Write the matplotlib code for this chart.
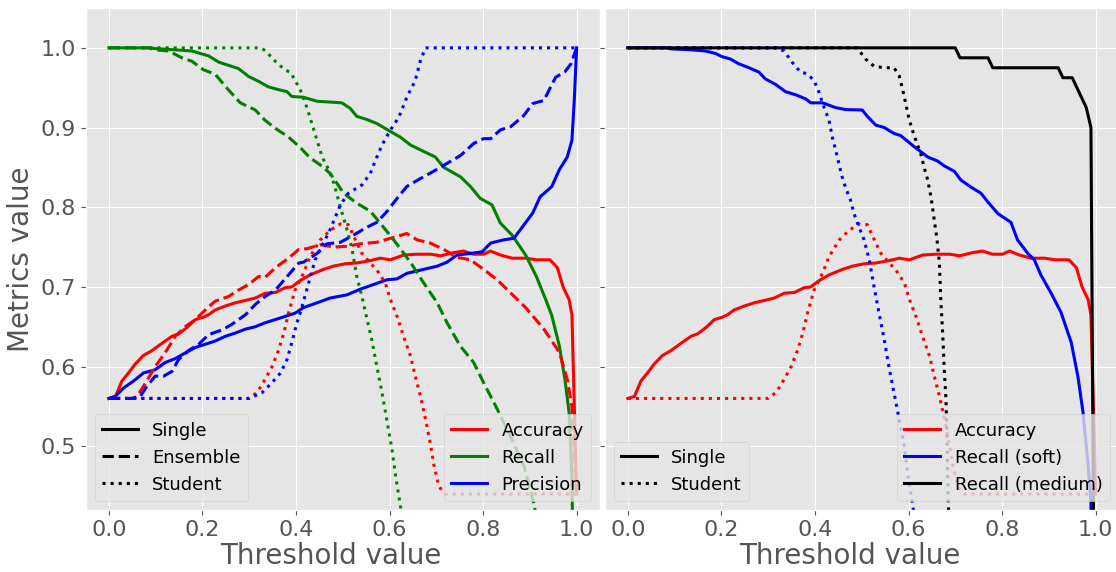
import numpy as np
import matplotlib
matplotlib.use("Agg")
import matplotlib.pyplot as plt
from matplotlib.lines import Line2D

# ---- metric curves: (threshold, value) ----
acc_single = [(0.000, 0.560), (0.014, 0.5625), (0.028, 0.582), (0.042, 0.592), (0.056, 0.603),
              (0.074, 0.614), (0.092, 0.620), (0.113, 0.629), (0.135, 0.638), (0.149, 0.641),
              (0.167, 0.649), (0.185, 0.659), (0.202, 0.662), (0.213, 0.665), (0.227, 0.671),
              (0.249, 0.676), (0.270, 0.680), (0.292, 0.683), (0.313, 0.686), (0.334, 0.692),
              (0.356, 0.693), (0.377, 0.699), (0.391, 0.700), (0.409, 0.708), (0.430, 0.715),
              (0.459, 0.722), (0.480, 0.726), (0.505, 0.729), (0.530, 0.730), (0.559, 0.733),
              (0.580, 0.736), (0.602, 0.734), (0.630, 0.740), (0.659, 0.741), (0.688, 0.741),
              (0.709, 0.739), (0.737, 0.743), (0.758, 0.745), (0.780, 0.741), (0.801, 0.741),
              (0.816, 0.745), (0.837, 0.740), (0.862, 0.736), (0.891, 0.736), (0.914, 0.734),
              (0.943, 0.734), (0.959, 0.724), (0.971, 0.700), (0.984, 0.684), (0.990, 0.665),
              (1.000, 0.440)]

acc_ensemble = [(0.000, 0.560), (0.050, 0.560), (0.060, 0.5625), (0.078, 0.579), (0.099, 0.600),
                (0.120, 0.617), (0.142, 0.638), (0.163, 0.650), (0.185, 0.659), (0.206, 0.671),
                (0.227, 0.682), (0.256, 0.688), (0.277, 0.696), (0.299, 0.703), (0.320, 0.713),
                (0.334, 0.712), (0.356, 0.724), (0.384, 0.736), (0.406, 0.747), (0.424, 0.748),
                (0.452, 0.753), (0.480, 0.750), (0.509, 0.751), (0.537, 0.754), (0.573, 0.756),
                (0.602, 0.761), (0.637, 0.767), (0.659, 0.759), (0.687, 0.755), (0.716, 0.747),
                (0.745, 0.737), (0.773, 0.734), (0.801, 0.722), (0.830, 0.709), (0.858, 0.693),
                (0.891, 0.674), (0.930, 0.647), (0.963, 0.618), (0.980, 0.584), (0.990, 0.550),
                (1.000, 0.440)]

acc_student = [(0.000, 0.560), (0.299, 0.560), (0.317, 0.5675), (0.334, 0.584), (0.349, 0.600),
               (0.363, 0.621), (0.374, 0.642), (0.384, 0.667), (0.398, 0.696), (0.416, 0.717),
               (0.430, 0.738), (0.452, 0.759), (0.473, 0.771), (0.495, 0.779), (0.512, 0.778),
               (0.527, 0.759), (0.541, 0.742), (0.559, 0.730), (0.573, 0.721), (0.591, 0.705),
               (0.602, 0.684), (0.616, 0.663), (0.630, 0.638), (0.645, 0.613), (0.655, 0.588),
               (0.666, 0.563), (0.677, 0.534), (0.688, 0.501), (0.695, 0.476), (0.705, 0.451),
               (0.712, 0.444), (0.720, 0.440), (1.000, 0.440)]

rec_single = [(0.000, 1.000), (0.085, 1.000), (0.100, 0.999), (0.142, 0.9975), (0.178, 0.996),
              (0.195, 0.993), (0.213, 0.990), (0.235, 0.982), (0.256, 0.978), (0.277, 0.974),
              (0.299, 0.964), (0.320, 0.958), (0.341, 0.951), (0.363, 0.9475), (0.381, 0.945),
              (0.391, 0.939), (0.416, 0.938), (0.445, 0.933), (0.498, 0.931), (0.516, 0.924),
              (0.530, 0.914), (0.552, 0.910), (0.573, 0.905), (0.602, 0.895), (0.623, 0.888),
              (0.645, 0.878), (0.673, 0.870), (0.698, 0.863), (0.716, 0.850), (0.752, 0.838),
              (0.773, 0.826), (0.794, 0.811), (0.819, 0.803), (0.837, 0.780), (0.862, 0.765),
              (0.891, 0.740), (0.914, 0.713), (0.934, 0.684), (0.947, 0.664), (0.963, 0.626),
              (0.975, 0.584), (0.984, 0.542), (0.990, 0.460), (1.000, 0.000)]

rec_ensemble = [(0.000, 1.000), (0.085, 1.000), (0.099, 0.9975), (0.128, 0.996), (0.156, 0.9875),
                (0.178, 0.983), (0.202, 0.9725), (0.227, 0.967), (0.256, 0.947), (0.281, 0.931),
                (0.313, 0.922), (0.334, 0.909), (0.356, 0.899), (0.384, 0.888), (0.409, 0.875),
                (0.430, 0.862), (0.452, 0.853), (0.473, 0.8425), (0.502, 0.8175), (0.530, 0.805),
                (0.559, 0.795), (0.580, 0.780), (0.609, 0.759), (0.630, 0.7425), (0.648, 0.728),
                (0.673, 0.705), (0.702, 0.680), (0.723, 0.655), (0.751, 0.626), (0.780, 0.605),
                (0.801, 0.580), (0.830, 0.547), (0.858, 0.513), (0.887, 0.476), (0.910, 0.425),
                (1.000, 0.000)]

rec_student = [(0.000, 1.000), (0.324, 1.000), (0.334, 0.9967), (0.356, 0.983), (0.377, 0.972),
               (0.388, 0.9696), (0.402, 0.955), (0.413, 0.9425), (0.424, 0.924), (0.434, 0.905),
               (0.445, 0.884), (0.456, 0.863), (0.470, 0.847), (0.481, 0.830), (0.495, 0.800),
               (0.509, 0.772), (0.520, 0.747), (0.530, 0.713), (0.541, 0.688), (0.552, 0.659),
               (0.562, 0.634), (0.573, 0.600), (0.584, 0.567), (0.594, 0.534), (0.605, 0.497),
               (0.614, 0.459), (0.623, 0.426), (0.640, 0.360)]

prec_single = [(0.000, 0.560), (0.0135, 0.5625), (0.031, 0.573), (0.053, 0.582), (0.074, 0.592),
               (0.099, 0.596), (0.120, 0.605), (0.142, 0.610), (0.163, 0.617), (0.185, 0.624),
               (0.206, 0.628), (0.227, 0.632), (0.249, 0.638), (0.270, 0.642), (0.292, 0.647),
               (0.313, 0.650), (0.334, 0.655), (0.356, 0.659), (0.377, 0.663), (0.398, 0.667),
               (0.416, 0.674), (0.445, 0.680), (0.473, 0.686), (0.509, 0.690), (0.537, 0.697),
               (0.566, 0.703), (0.595, 0.709), (0.616, 0.710), (0.637, 0.717), (0.673, 0.722),
               (0.702, 0.726), (0.723, 0.731), (0.744, 0.740), (0.773, 0.742), (0.798, 0.744),
               (0.816, 0.755), (0.844, 0.759), (0.866, 0.761), (0.885, 0.776), (0.906, 0.7925),
               (0.922, 0.813), (0.947, 0.826), (0.963, 0.847), (0.980, 0.863), (0.990, 0.884),
               (0.995, 0.934), (1.000, 1.000)]

prec_ensemble = [(0.000, 0.560), (0.050, 0.560), (0.067, 0.5625), (0.081, 0.575), (0.099, 0.588),
                 (0.117, 0.588), (0.135, 0.594), (0.149, 0.609), (0.170, 0.620), (0.192, 0.628),
                 (0.213, 0.640), (0.242, 0.646), (0.263, 0.653), (0.292, 0.665), (0.313, 0.678),
                 (0.334, 0.688), (0.356, 0.696), (0.384, 0.715), (0.406, 0.730), (0.416, 0.731),
                 (0.445, 0.742), (0.466, 0.754), (0.495, 0.756), (0.523, 0.765), (0.552, 0.775),
                 (0.573, 0.781), (0.595, 0.795), (0.616, 0.811), (0.637, 0.826), (0.666, 0.836),
                 (0.694, 0.845), (0.723, 0.855), (0.752, 0.865), (0.780, 0.880), (0.801, 0.886),
                 (0.816, 0.886), (0.837, 0.897), (0.859, 0.901), (0.887, 0.915), (0.906, 0.930),
                 (0.930, 0.934), (0.955, 0.963), (0.975, 0.970), (0.988, 0.980), (1.000, 1.000)]

prec_student = [(0.000, 0.560), (0.299, 0.560), (0.327, 0.567), (0.349, 0.580), (0.367, 0.592),
                (0.381, 0.609), (0.391, 0.630), (0.402, 0.655), (0.409, 0.667), (0.420, 0.690),
                (0.431, 0.713), (0.441, 0.734), (0.455, 0.751), (0.470, 0.768), (0.481, 0.783),
                (0.495, 0.803), (0.512, 0.8175), (0.541, 0.828), (0.559, 0.8425), (0.570, 0.859),
                (0.584, 0.878), (0.602, 0.897), (0.620, 0.913), (0.637, 0.938), (0.655, 0.959),
                (0.666, 0.984), (0.677, 1.000), (1.000, 1.000)]

rec_soft_single = [(0.000, 1.000), (0.080, 1.000), (0.094, 0.9987), (0.137, 0.9975), (0.166, 0.996),
                   (0.187, 0.993), (0.201, 0.989), (0.219, 0.986), (0.237, 0.980), (0.259, 0.975),
                   (0.280, 0.9696), (0.294, 0.961), (0.316, 0.954), (0.337, 0.945), (0.359, 0.941),
                   (0.380, 0.936), (0.391, 0.931), (0.416, 0.931), (0.444, 0.925), (0.466, 0.9225),
                   (0.501, 0.922), (0.512, 0.914), (0.530, 0.903), (0.548, 0.900), (0.569, 0.8925),
                   (0.583, 0.890), (0.612, 0.876), (0.641, 0.863), (0.662, 0.858), (0.676, 0.852),
                   (0.698, 0.845), (0.712, 0.834), (0.734, 0.825), (0.755, 0.8175), (0.769, 0.807),
                   (0.791, 0.792), (0.819, 0.781), (0.833, 0.759), (0.855, 0.742), (0.869, 0.734),
                   (0.883, 0.715), (0.905, 0.692), (0.926, 0.668), (0.948, 0.630), (0.962, 0.588),
                   (0.973, 0.543), (0.984, 0.476), (0.990, 0.430), (1.000, 0.000)]

rec_soft_student = [(0.000, 1.000), (0.315, 1.000), (0.334, 0.996), (0.351, 0.982), (0.369, 0.9696),
                    (0.383, 0.9675), (0.398, 0.959), (0.408, 0.945), (0.419, 0.926), (0.430, 0.909),
                    (0.437, 0.888), (0.444, 0.872), (0.451, 0.855), (0.458, 0.838), (0.467, 0.822),
                    (0.476, 0.809), (0.483, 0.7925), (0.491, 0.780), (0.505, 0.759), (0.516, 0.734),
                    (0.526, 0.701), (0.537, 0.667), (0.548, 0.634), (0.558, 0.600), (0.569, 0.567),
                    (0.580, 0.534), (0.591, 0.500), (0.598, 0.467), (0.609, 0.426), (0.620, 0.380)]

rec_medium_single = [(0.000, 1.000), (0.700, 1.000), (0.710, 0.9875), (0.770, 0.9875), (0.780, 0.975),
                     (0.920, 0.975), (0.930, 0.9625), (0.950, 0.9625), (0.980, 0.925), (0.990, 0.900),
                     (1.000, 0.000)]

rec_medium_student = [(0.000, 1.000), (0.490, 1.000), (0.508, 0.986), (0.526, 0.977), (0.548, 0.975),
                      (0.569, 0.975), (0.580, 0.965), (0.587, 0.949), (0.594, 0.930), (0.601, 0.911),
                      (0.608, 0.897), (0.618, 0.880), (0.626, 0.8675), (0.633, 0.851), (0.641, 0.834),
                      (0.648, 0.813), (0.655, 0.784), (0.661, 0.759), (0.666, 0.730), (0.669, 0.684),
                      (0.673, 0.642), (0.676, 0.601), (0.680, 0.559), (0.682, 0.517), (0.685, 0.430),
                      (0.690, 0.350)]

x_ticks = [0.0, 0.2, 0.4, 0.6, 0.8, 1.0]
y_ticks = [0.5, 0.6, 0.7, 0.8, 0.9, 1.0]

plt.style.use("ggplot")
plt.rcParams["font.family"] = ["DejaVu Sans"]

LW = 2.2
fig = plt.figure(figsize=(11.16, 5.72), dpi=100)
W, H = 1116.0, 572.0
ax1 = fig.add_axes([85.5 / W, 62 / H, 514.5 / W, 502 / H])
ax2 = fig.add_axes([604.5 / W, 62 / H, 514.5 / W, 502 / H], sharey=ax1)


def draw(ax, curve, color, ls):
    arr = np.asarray(curve)
    ax.plot(arr[:, 0], arr[:, 1], color=color, linestyle=ls, linewidth=LW)


# left: single / ensemble / student models
for curve, color, ls in [
    (acc_single, "red", "-"), (rec_single, "green", "-"), (prec_single, "blue", "-"),
    (acc_ensemble, "red", "--"), (rec_ensemble, "green", "--"), (prec_ensemble, "blue", "--"),
    (acc_student, "red", ":"), (rec_student, "green", ":"), (prec_student, "blue", ":"),
]:
    draw(ax1, curve, color, ls)

# right: soft vs medium recall
for curve, color, ls in [
    (acc_single, "red", "-"), (rec_soft_single, "blue", "-"), (rec_medium_single, "black", "-"),
    (acc_student, "red", ":"), (rec_soft_student, "blue", ":"), (rec_medium_student, "black", ":"),
]:
    draw(ax2, curve, color, ls)

for ax in (ax1, ax2):
    ax.set_xlim(-0.05, 1.05)
    ax.set_ylim(0.42, 1.05)
    ax.set_xticks(x_ticks)
    ax.set_yticks(y_ticks)
    ax.tick_params(labelsize=16, colors="#555555")
    ax.set_xlabel("Threshold value", fontsize=20, color="#555555", labelpad=2, x=0.477)
ax1.set_ylabel("Metrics value", fontsize=20, color="#555555")
plt.setp(ax2.get_yticklabels(), visible=False)

leg_kw = dict(fontsize=13)
style_left = [Line2D([], [], color="black", lw=LW, ls=s) for s in ("-", "--", ":")]
leg1 = ax1.legend(style_left, ["Single", "Ensemble", "Student"], loc="lower left", **leg_kw)
ax1.add_artist(leg1)
color_left = [Line2D([], [], color=c, lw=LW) for c in ("red", "green", "blue")]
ax1.legend(color_left, ["Accuracy", "Recall", "Precision"], loc="lower right", **leg_kw)

style_right = [Line2D([], [], color="black", lw=LW, ls=s) for s in ("-", ":")]
leg2 = ax2.legend(style_right, ["Single", "Student"], loc="lower left", **leg_kw)
ax2.add_artist(leg2)
color_right = [Line2D([], [], color=c, lw=LW) for c in ("red", "blue", "black")]
ax2.legend(color_right, ["Accuracy", "Recall (soft)", "Recall (medium)"], loc="lower right", **leg_kw)

fig.savefig("out.png", dpi=100)
